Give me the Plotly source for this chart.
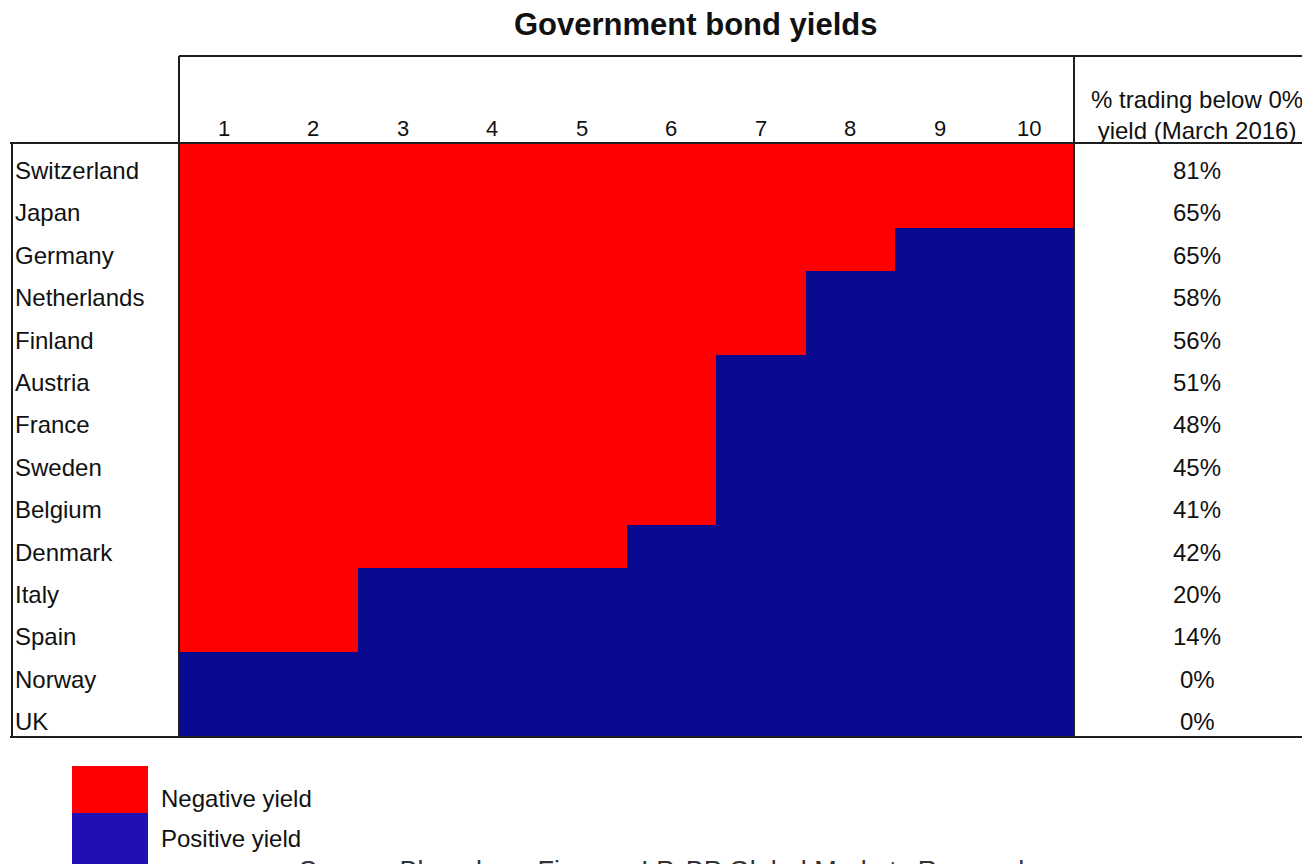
import plotly.graph_objects as go

# page has an 8px body margin; figure sized so it fills the 1310x864 window
OFF = 8
W, H = 1310 - OFF, 864 - OFF

countries = ["Switzerland", "Japan", "Germany", "Netherlands", "Finland", "Austria",
             "France", "Sweden", "Belgium", "Denmark", "Italy", "Spain", "Norway", "UK"]
# number of maturities (years 1..N) trading with a negative yield
negative_maturities = [10, 10, 8, 7, 7, 6, 6, 6, 6, 5, 2, 2, 0, 0]
pct_below_zero = ["81%", "65%", "65%", "58%", "56%", "51%", "48%", "45%", "41%", "42%",
                  "20%", "14%", "0%", "0%"]
maturities = list(range(1, 11))

title_text = "Government bond yields"
header_text = "% trading below 0%<br>yield (March 2016)"
legend_labels = ["Negative yield", "Positive yield"]
source_text = "Source: Bloomberg Finance LP, BP Global Markets Research"

RED = "#FF0000"
BLUE = "#0A0A90"
LEG_BLUE = "#2010B4"
LINE = "#1e1e1e"
TXT = "#111111"
FONT = "Liberation Sans, Arial, sans-serif"


def px(x):
    return (x - OFF) / W


def py(y):
    return 1 - (y - OFF) / H


z = [[1 if m <= n else 0 for m in maturities] for n in negative_maturities]

fig = go.Figure()
fig.add_trace(go.Heatmap(
    x=maturities, y=countries, z=z,
    zmin=0, zmax=1,
    colorscale=[[0, BLUE], [0.5, BLUE], [0.5, RED], [1, RED]],
    showscale=False, hoverinfo="skip",
))

annotations = []
annotations.append(dict(text="<b>" + title_text + "</b>", x=px(695), y=py(24), xref="paper", yref="paper",
                        xanchor="center", yanchor="middle", showarrow=False,
                        font=dict(size=31, color=TXT, family=FONT)))
for m in maturities:
    annotations.append(dict(text=str(m), x=m, y=py(128), xref="x", yref="paper",
                            xanchor="center", yanchor="middle", showarrow=False,
                            font=dict(size=22, color=TXT, family=FONT)))
annotations.append(dict(text=header_text, x=px(1197), y=py(115), xref="paper", yref="paper",
                        xanchor="center", yanchor="middle", showarrow=False,
                        font=dict(size=24, color=TXT, family=FONT)))
for c, p in zip(countries, pct_below_zero):
    annotations.append(dict(text=c, x=px(13), y=c, xref="paper", yref="y",
                            xanchor="left", yanchor="middle", yshift=-6, showarrow=False,
                            font=dict(size=24, color=TXT, family=FONT)))
    annotations.append(dict(text=p, x=px(1197), y=c, xref="paper", yref="y",
                            xanchor="center", yanchor="middle", yshift=-6, showarrow=False,
                            font=dict(size=24, color=TXT, family=FONT)))
for lab, yy in zip(legend_labels, [798, 838]):
    annotations.append(dict(text=lab, x=px(159), y=py(yy), xref="paper", yref="paper",
                            xanchor="left", yanchor="middle", showarrow=False,
                            font=dict(size=24, color=TXT, family=FONT)))
annotations.append(dict(text=source_text, x=px(297), y=py(871), xref="paper", yref="paper",
                        xanchor="left", yanchor="middle", showarrow=False,
                        font=dict(size=27, color="#333333", family=FONT)))

shapes = []


def hline(y, x0, x1):
    shapes.append(dict(type="line", xref="paper", yref="paper", x0=px(x0), x1=px(x1),
                       y0=py(y), y1=py(y), line=dict(color=LINE, width=2)))


def vline(x, y0, y1):
    shapes.append(dict(type="line", xref="paper", yref="paper", x0=px(x), x1=px(x),
                       y0=py(y0), y1=py(y1), line=dict(color=LINE, width=2)))


hline(56, 179, 1310)
hline(143, 10, 1310)
hline(737, 10, 1310)
vline(179, 56, 737)
vline(1074, 56, 737)
vline(12, 143, 737)

# legend swatches
shapes.append(dict(type="rect", xref="paper", yref="paper", x0=px(72), x1=px(148),
                   y0=py(813), y1=py(766), fillcolor=RED, line=dict(width=0)))
shapes.append(dict(type="rect", xref="paper", yref="paper", x0=px(72), x1=px(148),
                   y0=py(870), y1=py(813), fillcolor=LEG_BLUE, line=dict(width=0)))

fig.update_layout(
    width=W, height=H,
    margin=dict(l=0, r=0, t=0, b=0),
    paper_bgcolor="white", plot_bgcolor="white",
    xaxis=dict(domain=[px(179), px(1074)], range=[0.5, 10.5], visible=False, fixedrange=True),
    yaxis=dict(domain=[py(737), py(143)], autorange="reversed", visible=False, fixedrange=True,
               type="category", categoryorder="array", categoryarray=countries),
    annotations=annotations,
    shapes=shapes,
    showlegend=False,
    font=dict(family=FONT),
)

fig.write_html("out.html")
